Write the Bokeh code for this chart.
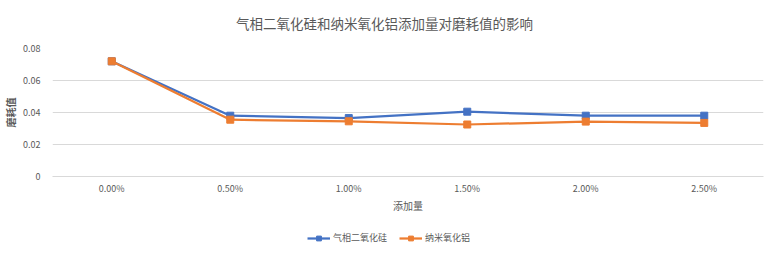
from bokeh.plotting import figure
from bokeh.layouts import column
from bokeh.models import Legend, LegendItem, Range1d, FactorRange, SingleIntervalTicker, Label
from bokeh.embed import file_html
from bokeh.resources import INLINE

categories = ["0.00%", "0.50%", "1.00%", "1.50%", "2.00%", "2.50%"]
silica = [0.072, 0.038, 0.0365, 0.0405, 0.038, 0.038]
alumina = [0.072, 0.0355, 0.0345, 0.0325, 0.0343, 0.0335]
series_names = ["气相二氧化硅", "纳米氧化铝"]
title_text = "气相二氧化硅和纳米氧化铝添加量对磨耗值的影响"
x_label = "添加量"
y_label = "磨耗值"

FONT = "Noto Sans CJK SC"
GREY = "#595959"
colors = ["#4472C4", "#ED7D31"]

# ---- title strip (frame aligned with the chart frame: page x 52..763) ----
pt = figure(width=780, height=40, x_range=Range1d(52, 763), y_range=Range1d(0, 40),
            output_backend="svg", toolbar_location=None, min_border=0,
            x_axis_location=None, y_axis_location=None)
pt.outline_line_color = None
pt.grid.visible = False
pt.add_layout(Label(x=384, y=18, text=title_text, text_align="center", text_baseline="middle",
                    text_font=FONT, text_font_size="13.5px", text_color=GREY))

# ---- main chart ----
p = figure(frame_width=711, frame_height=128, x_range=FactorRange(*categories, range_padding=0),
           y_range=Range1d(0, 0.08), output_backend="svg", toolbar_location=None,
           min_border_left=52, min_border_right=17, min_border_top=8, min_border_bottom=44)
p.outline_line_color = None

p.xgrid.grid_line_color = None
p.ygrid.grid_line_color = "#d9d9d9"
p.yaxis.ticker = SingleIntervalTicker(interval=0.02)
p.yaxis.axis_line_color = None
p.yaxis.major_tick_line_color = None
p.yaxis.minor_tick_line_color = None
p.yaxis.major_tick_out = 0
p.yaxis.major_tick_in = 0
p.yaxis.major_label_text_font = FONT
p.yaxis.major_label_text_font_size = "9px"
p.yaxis.major_label_text_color = GREY
p.yaxis.major_label_standoff = 8
p.yaxis.axis_label = y_label
p.yaxis.axis_label_text_font = FONT
p.yaxis.axis_label_text_font_size = "10px"
p.yaxis.axis_label_text_font_style = "bold"
p.yaxis.axis_label_text_color = GREY
p.yaxis.axis_label_standoff = 2

p.xaxis.axis_line_color = "#d9d9d9"
p.xaxis.major_tick_line_color = None
p.xaxis.minor_tick_line_color = None
p.xaxis.major_tick_out = 0
p.xaxis.major_tick_in = 0
p.xaxis.major_label_text_font = FONT
p.xaxis.major_label_text_font_size = "9px"
p.xaxis.major_label_text_color = GREY
p.xaxis.major_label_standoff = 5
p.xaxis.axis_label = x_label
p.xaxis.axis_label_text_font = FONT
p.xaxis.axis_label_text_font_size = "10px"
p.xaxis.axis_label_text_font_style = "normal"
p.xaxis.axis_label_text_color = GREY
p.xaxis.axis_label_standoff = 0

for vals, c in zip([silica, alumina], colors):
    p.line(categories, vals, line_color=c, line_width=2.25)
    p.scatter(categories, vals, marker="square", size=7, fill_color=c, line_color=c)

# ---- legend strip ----
pl = figure(width=780, height=45, x_range=FactorRange(*categories), y_range=Range1d(10, 20),
            output_backend="svg", toolbar_location=None, min_border=0,
            x_axis_location=None, y_axis_location=None)
pl.outline_line_color = None
pl.grid.visible = False
items = []
for name, vals, c in zip(series_names, [silica, alumina], colors):
    l = pl.line(categories, vals, line_color=c, line_width=2.25)
    m = pl.scatter(categories, vals, marker="square", size=6, fill_color=c, line_color=c)
    items.append(LegendItem(label=name, renderers=[l, m]))
legend = Legend(items=items, orientation="horizontal", location=(255, 21),
                label_text_font=FONT, label_text_font_size="9px", label_text_color=GREY,
                border_line_color=None, background_fill_alpha=0, glyph_width=23,
                glyph_height=12, label_height=12,
                spacing=12, margin=0, padding=0, label_standoff=3)
pl.add_layout(legend, "center")

layout = column(pt, p, pl, spacing=0)
open("out.html", "w").write(file_html(layout, INLINE))
